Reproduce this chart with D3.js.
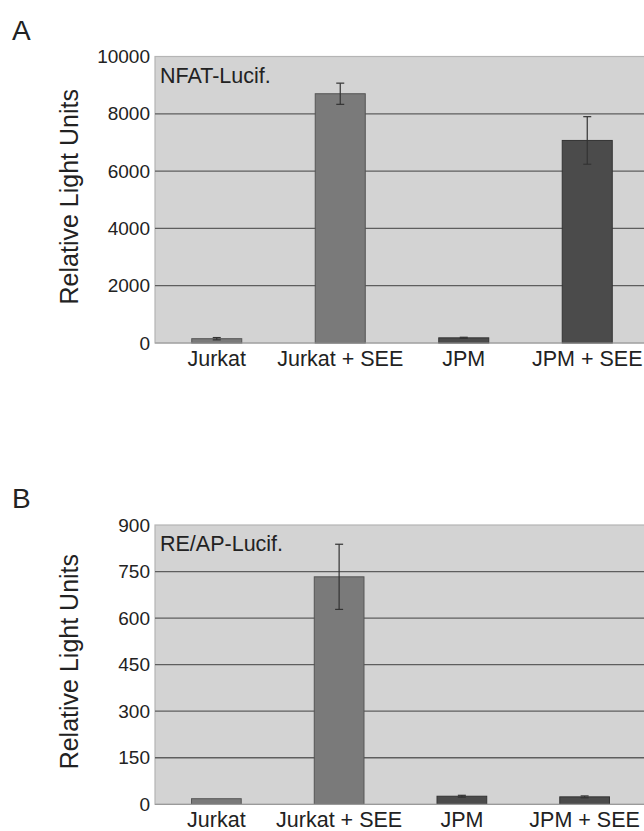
<!DOCTYPE html>
<html lang="en">
<head>
    <meta charset="utf-8">
    <script src="https://d3js.org/d3.v7.min.js"></script>
    <style>
        body { margin: 0; background: #fff; }
        svg text { font-family: "Liberation Sans", Arial, Helvetica, sans-serif; fill: #222; }
    </style>
</head>
<body>
<svg id="chart" width="644" height="831"></svg>

<script>
// values
const categories = ["Jurkat", "Jurkat + SEE", "JPM", "JPM + SEE"];
const cellType = ["Jurkat", "Jurkat", "JPM", "JPM"];

const nfatValues = [150, 8700, 180, 7070];
const nfatErrors = [40, 370, 20, 830];
const nfatTicks = [0, 2000, 4000, 6000, 8000, 10000];

const reapValues = [18, 733, 26, 24];
const reapErrors = [0, 105, 3, 3];
const reapTicks = [0, 150, 300, 450, 600, 750, 900];

const fills = {Jurkat: "#7a7a7a", JPM: "#4b4b4b"};
const strokes = {Jurkat: "#555", JPM: "#333"};

const svg = d3.select("#chart");

function panel(opts) {
  const g = svg.append("g");
  const x = d3.scaleBand()
      .domain(categories)
      .range([opts.left, opts.right])
      .paddingInner(0.595)
      .paddingOuter(0.2975);
  const y = d3.scaleLinear()
      .domain([0, d3.max(opts.ticks)])
      .range([opts.bottom, opts.top]);

  // panel letter
  g.append("text")
      .attr("x", 12)
      .attr("y", opts.top - 17)
      .style("font-size", "28px")
      .text(opts.letter);

  // plot background
  g.append("rect")
      .attr("x", opts.left)
      .attr("y", opts.top)
      .attr("width", opts.right - opts.left)
      .attr("height", opts.bottom - opts.top)
      .attr("fill", "#d3d3d3")
      .attr("stroke", "#b5b5b5")
      .attr("stroke-width", 1.2);

  // grid lines
  g.selectAll(".grid")
    .data(opts.ticks.slice(1, -1))
    .join("line")
      .attr("x1", opts.left)
      .attr("x2", opts.right)
      .attr("y1", d => y(d))
      .attr("y2", d => y(d))
      .attr("stroke", "#5e5e5e")
      .attr("stroke-width", 1.3);

  // y axis labels
  const yAxis = d3.axisLeft(y).tickValues(opts.ticks).tickFormat(d3.format("d"))
      .tickSize(0).tickPadding(5);
  const ya = g.append("g")
      .attr("transform", `translate(${opts.left},0)`)
      .call(yAxis);
  ya.select(".domain").remove();
  ya.selectAll("text")
      .style("font-size", "19px")
      .style("font-family", "'Liberation Sans', Arial, sans-serif")
      .attr("fill", "#222");

  // y title
  g.append("text")
      .attr("transform", `translate(78,${(opts.top + opts.bottom) / 2 - 3}) rotate(-90)`)
      .attr("text-anchor", "middle")
      .style("font-size", "25px")
      .text("Relative Light Units");

  // inner label
  g.append("text")
      .attr("x", opts.left + 5)
      .attr("y", opts.top + 26)
      .style("font-size", "21.5px")
      .text(opts.label);

  // bars
  g.selectAll(".bar")
    .data(categories)
    .join("rect")
      .attr("x", d => x(d))
      .attr("y", (d, i) => y(opts.values[i]))
      .attr("width", x.bandwidth())
      .attr("height", (d, i) => opts.bottom - y(opts.values[i]))
      .attr("fill", (d, i) => fills[cellType[i]])
      .attr("stroke", (d, i) => strokes[cellType[i]])
      .attr("stroke-width", 1);

  // error bars
  const eb = g.selectAll(".err")
    .data(categories.filter((d, i) => opts.errors[i] > 0))
    .join("g")
      .attr("stroke", "#333")
      .attr("stroke-width", 1.2);
  const idx = d => categories.indexOf(d);
  const cx = d => x(d) + x.bandwidth() / 2;
  eb.append("line")
      .attr("x1", cx).attr("x2", cx)
      .attr("y1", d => y(opts.values[idx(d)] + opts.errors[idx(d)]))
      .attr("y2", d => y(opts.values[idx(d)] - opts.errors[idx(d)]));
  eb.append("line")
      .attr("x1", d => cx(d) - 4).attr("x2", d => cx(d) + 4)
      .attr("y1", d => y(opts.values[idx(d)] + opts.errors[idx(d)]))
      .attr("y2", d => y(opts.values[idx(d)] + opts.errors[idx(d)]));
  eb.append("line")
      .attr("x1", d => cx(d) - 4).attr("x2", d => cx(d) + 4)
      .attr("y1", d => y(opts.values[idx(d)] - opts.errors[idx(d)]))
      .attr("y2", d => y(opts.values[idx(d)] - opts.errors[idx(d)]));

  // x axis line + category labels
  g.append("line")
      .attr("x1", opts.left).attr("x2", opts.right)
      .attr("y1", opts.bottom).attr("y2", opts.bottom)
      .attr("stroke", "#9a9a9a")
      .attr("stroke-width", 1.2);
  g.selectAll(".cat")
    .data(categories)
    .join("text")
      .attr("x", d => x(d) + x.bandwidth() / 2)
      .attr("y", opts.bottom + 23)
      .attr("text-anchor", "middle")
      .style("font-size", "21.5px")
      .text(d => d);
}

panel({letter: "A", label: "NFAT-Lucif.", values: nfatValues, errors: nfatErrors,
       ticks: nfatTicks, left: 155, right: 649, top: 56.5, bottom: 343});
panel({letter: "B", label: "RE/AP-Lucif.", values: reapValues, errors: reapErrors,
       ticks: reapTicks, left: 155, right: 646, top: 525, bottom: 804.3});
</script>
</body>
</html>
